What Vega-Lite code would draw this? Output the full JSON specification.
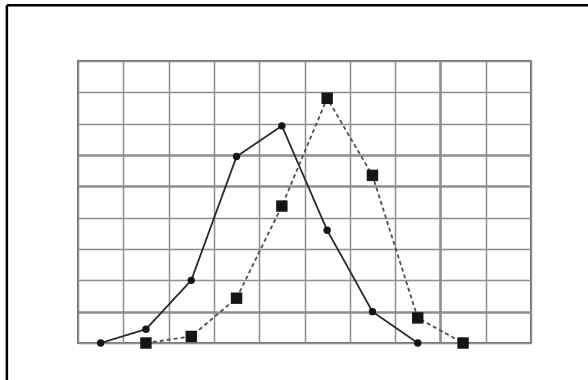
{
  "$schema": "https://vega.github.io/schema/vega-lite/v6.json",
  "width": 453,
  "height": 282,
  "autosize": "none",
  "padding": {"left": 78, "top": 61, "right": 57, "bottom": 37},
  "background": "white",
  "config": {
    "view": {"stroke": "#4a4a4a", "strokeWidth": 1.6},
    "axis": {"labels": false, "ticks": false, "domain": false, "gridColor": "#8e8e8e", "gridOpacity": 1}
  },
  "datasets": {
    "pts": [
      {"x": 0.5, "y": 0, "series": "A"},
      {"x": 1.5, "y": 0.44, "series": "A"},
      {"x": 2.5, "y": 2.0, "series": "A"},
      {"x": 3.5, "y": 5.95, "series": "A"},
      {"x": 4.5, "y": 6.93, "series": "A"},
      {"x": 5.5, "y": 3.6, "series": "A"},
      {"x": 6.5, "y": 1.0, "series": "A"},
      {"x": 7.5, "y": 0, "series": "A"},
      {"x": 1.5, "y": 0, "series": "B"},
      {"x": 2.5, "y": 0.21, "series": "B"},
      {"x": 3.5, "y": 1.43, "series": "B"},
      {"x": 4.5, "y": 4.37, "series": "B"},
      {"x": 5.5, "y": 7.81, "series": "B"},
      {"x": 6.5, "y": 5.35, "series": "B"},
      {"x": 7.5, "y": 0.8, "series": "B"},
      {"x": 8.5, "y": 0, "series": "B"}
    ],
    "frame": [
      {"left": -1.57, "right": 12, "top": 10.78, "bottom": -2}
    ]
  },
  "layer": [
    {
      "data": {"name": "pts"},
      "mark": {"type": "line", "strokeWidth": 1.8},
      "encoding": {
        "x": {"field": "x", "type": "quantitative", "title": null,
              "scale": {"domain": [0, 10], "nice": false, "zero": false},
              "axis": {"values": [0,1,2,3,4,5,6,7,8,9,10], "grid": true,
                       "gridWidth": {"condition": {"test": "datum.value == 8", "value": 2.6}, "value": 1.5}}},
        "y": {"field": "y", "type": "quantitative", "title": null,
              "scale": {"domain": [0, 9], "nice": false, "zero": false},
              "axis": {"values": [0,1,2,3,4,5,6,7,8,9], "grid": true,
                       "gridWidth": {"condition": {"test": "datum.value == 1 || datum.value == 5 || datum.value == 6", "value": 2.6}, "value": 1.5}}},
        "detail": {"field": "series"},
        "color": {"field": "series", "type": "nominal", "legend": null,
                  "scale": {"domain": ["A", "B"], "range": ["#2a2a2a", "#505050"]}},
        "strokeDash": {"field": "series", "type": "nominal", "legend": null,
                       "scale": {"domain": ["A", "B"], "range": [[1, 0], [4, 3]]}}
      }
    },
    {
      "data": {"name": "pts"},
      "mark": {"type": "point", "filled": true, "opacity": 1},
      "encoding": {
        "x": {"field": "x", "type": "quantitative", "title": null,
              "axis": {"values": [0,1,2,3,4,5,6,7,8,9,10], "grid": true,
                       "gridWidth": {"condition": {"test": "datum.value == 8", "value": 2.6}, "value": 1.5}}},
        "y": {"field": "y", "type": "quantitative", "title": null,
              "axis": {"values": [0,1,2,3,4,5,6,7,8,9], "grid": true,
                       "gridWidth": {"condition": {"test": "datum.value == 1 || datum.value == 5 || datum.value == 6", "value": 2.6}, "value": 1.5}}},
        "shape": {"field": "series", "type": "nominal", "legend": null,
                  "scale": {"domain": ["A", "B"], "range": ["circle", "square"]}},
        "size": {"field": "series", "type": "nominal", "legend": null,
                 "scale": {"domain": ["A", "B"], "range": [55, 130]}},
        "color": {"value": "#151515"}
      }
    },
    {
      "data": {"name": "frame"},
      "mark": {"type": "rule", "color": "#000", "strokeWidth": 2.5, "clip": false},
      "encoding": {
        "x": {"field": "left", "type": "quantitative", "title": null,
              "axis": {"values": [0,1,2,3,4,5,6,7,8,9,10], "grid": true,
                       "gridWidth": {"condition": {"test": "datum.value == 8", "value": 2.6}, "value": 1.5}}},
        "x2": {"field": "right"},
        "y": {"field": "top", "type": "quantitative", "title": null,
              "axis": {"values": [0,1,2,3,4,5,6,7,8,9], "grid": true,
                       "gridWidth": {"condition": {"test": "datum.value == 1 || datum.value == 5 || datum.value == 6", "value": 2.6}, "value": 1.5}}}
      }
    },
    {
      "data": {"name": "frame"},
      "mark": {"type": "rule", "color": "#000", "strokeWidth": 2.5, "clip": false},
      "encoding": {
        "x": {"field": "left", "type": "quantitative", "title": null,
              "axis": {"values": [0,1,2,3,4,5,6,7,8,9,10], "grid": true,
                       "gridWidth": {"condition": {"test": "datum.value == 8", "value": 2.6}, "value": 1.5}}},
        "y": {"field": "bottom", "type": "quantitative", "title": null,
              "axis": {"values": [0,1,2,3,4,5,6,7,8,9], "grid": true,
                       "gridWidth": {"condition": {"test": "datum.value == 1 || datum.value == 5 || datum.value == 6", "value": 2.6}, "value": 1.5}}},
        "y2": {"field": "top"}
      }
    }
  ]
}
